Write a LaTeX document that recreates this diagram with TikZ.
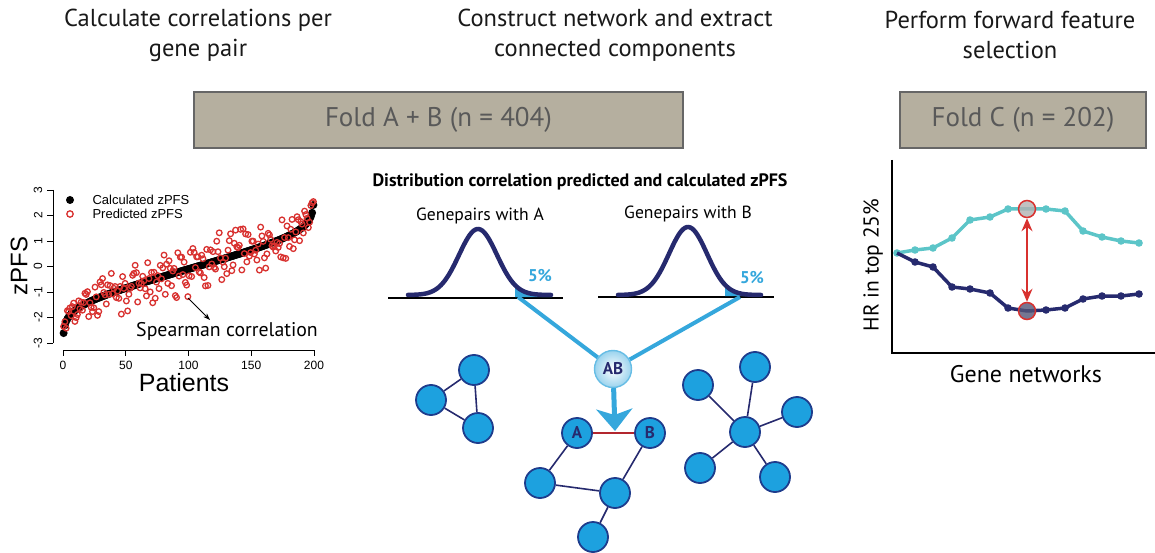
\documentclass[tikz,border=0pt]{standalone}
\usepackage{fontspec}
\setmainfont{PT Sans}
\newfontfamily\plotfont{Liberation Sans}
\usetikzlibrary{arrows.meta}

\definecolor{foldgray}{HTML}{B5AF9F}
\definecolor{navy}{HTML}{262A6E}
\definecolor{skyblue}{HTML}{35A7DC}
\definecolor{nodeblue}{HTML}{1DA1DF}
\definecolor{nodeline}{HTML}{1E3C8C}
\definecolor{edgered}{HTML}{B2262E}
\definecolor{lineteal}{HTML}{5CC5C8}
\definecolor{ptred}{HTML}{D8312F}

\tikzset{
  heading/.style={align=center, font=\fontsize{24.5}{30}\selectfont, text=black!90},
  foldbox/.style={draw=black!60, line width=1.2pt, fill=foldgray,
    font=\fontsize{27}{30}\selectfont, text=black!65},
  ticklab/.style={font=\plotfont\fontsize{12}{12}\selectfont},
  bell/.style={draw=navy, line width=4.5pt, line cap=round},
  feed/.style={draw=skyblue, line width=4pt},
  gene/.style={circle, draw=nodeline, line width=1.8pt, fill=nodeblue,
    minimum size=30pt, inner sep=0pt, font=\fontsize{17}{17}\selectfont\bfseries, text=navy},
  link/.style={draw=navy, line width=1.6pt},
}

\begin{document}
\begin{tikzpicture}[x=1pt,y=-1pt]
\useasboundingbox (0,0) rectangle (1155,553);

  %% headings
  \node[heading] (hcalc) at (198,35) {Calculate correlations per\\gene pair};
  \node[heading] (hnet) at (615,35) {Construct network and extract\\connected components};
  \node[heading] (hsel) at (1010,35) {Perform forward feature\\selection};

  %% folds
  \node[foldbox, minimum width=489pt, minimum height=56pt] (foldab) at (438.5,120) {Fold A + B (n = 404)};
  \node[foldbox, minimum width=246pt, minimum height=56pt] (foldc) at (1023,120) {Fold C (n = 202)};

  %% scatter plot: axes
  \draw[line width=0.8pt] (53,190) -- (53,343);
  \foreach \v in {-3,...,3}
    \draw[line width=0.8pt] (53,{266.5-25.5*\v}) -- (47,{266.5-25.5*\v})
    node[ticklab, rotate=90, anchor=south] (yt\v) at (46,{266.5-25.5*\v}) {\v};
  \draw[line width=0.8pt] (63,350) -- (314,350);
  \foreach \p in {0,50,...,200}
    \draw[line width=0.8pt] ({63+1.255*\p},350) -- ({63+1.255*\p},356)
    node[ticklab, anchor=north] (xt\p) at ({63+1.255*\p},357) {\p};
  \node[font=\plotfont\fontsize{24}{24}\selectfont, rotate=90] (ylab) at (19,266) {zPFS};
  \node[font=\plotfont\fontsize{25}{25}\selectfont] (xlab) at (184,383) {Patients};

  %% scatter plot: points
  \pgfmathsetseed{4242}
  \foreach \i in {1,...,200} {
    \pgfmathsetmacro\t{(\i-100.5)/100}
    \pgfmathsetmacro\zz{-0.1+0.9*\t+0.27*ln((1+\t)/(1-\t))}
    \fill[black] ({63+1.255*(\i-0.5)},{266.5-25.5*\zz}) circle (4pt);
  }
  \foreach \i in {1,...,200} {
    \pgfmathsetmacro\t{(\i-100.5)/100}
    \pgfmathsetmacro\zz{-0.1+0.9*\t+0.27*ln((1+\t)/(1-\t))+(0.75*rand+0.45*rand)*(1-0.5*abs(\t)^3)}
    \draw[ptred, line width=1.3pt] ({63+1.255*(\i-0.5)},{266.5-25.5*\zz}) circle (2.8pt);
  }

  %% legend
  \fill[black] (70,200) circle (4pt);
  \draw[ptred, line width=1.3pt] (70,214) circle (3.2pt);
  \node[font=\plotfont\fontsize{13}{13}\selectfont, anchor=west] (lgcalc) at (89,200) {Calculated zPFS};
  \node[font=\plotfont\fontsize{13}{13}\selectfont, anchor=west] (lgpred) at (89,214) {Predicted zPFS};

  %% spearman
  \node[font=\fontsize{19.8}{20}\selectfont] (spear) at (227,331) {Spearman correlation};
  \coordinate (spfrom) at (188,298);
  \coordinate (spto) at (210,320);
  \draw[line width=1pt, -{Stealth[length=7pt,width=5pt]}] (spfrom) -- (spto);

  %% distributions
  \node[font=\fontsize{18}{18}\selectfont\bfseries] (disttitle) at (580,182)
    {Distribution correlation predicted and calculated zPFS};
  \node[font=\fontsize{17.6}{18}\selectfont] (gpa) at (480,216) {Genepairs with A};
  \node[font=\fontsize{17.6}{18}\selectfont] (gpb) at (688,214) {Genepairs with B};

  \draw[line width=1.2pt] (388,298) -- (563,298);
  \draw[line width=1.2pt] (598,297) -- (774,297);
  \fill[skyblue] (515,297) -- plot[domain=515:552, samples=20] (\x,{295-66*exp(-((\x-478)^2)/722)}) -- (552,297) -- cycle;
  \fill[skyblue] (725,296) -- plot[domain=725:762, samples=20] (\x,{295-68*exp(-((\x-688)^2)/722)}) -- (762,296) -- cycle;
  \draw[bell] plot[domain=408:551, samples=80] (\x,{295-66*exp(-((\x-478)^2)/722)});
  \draw[bell] plot[domain=618:761, samples=80] (\x,{295-68*exp(-((\x-688)^2)/722)});
  \node[font=\fontsize{17}{17}\selectfont\bfseries, text=skyblue] (pcta) at (540,276) {5\%};
  \node[font=\fontsize{17}{17}\selectfont\bfseries, text=skyblue] (pctb) at (752,278) {5\%};

  %% gene pair AB
  \coordinate (taila) at (518,297);
  \coordinate (tailb) at (740,297);
  \node[circle, minimum size=37pt, inner sep=0pt, draw=skyblue!75, line width=1.4pt,
    inner color=white, outer color=skyblue!50, font=\fontsize{17}{17}\selectfont\bfseries,
    text=navy] (ab) at (613,369) {AB};
  \draw[feed] (taila) -- (ab);
  \draw[feed] (tailb) -- (ab);

  %% networks
  \node[gene] (t1) at (474,370) {};
  \node[gene] (t2) at (431,400) {};
  \node[gene] (t3) at (478,428) {};
  \node[gene] (ga) at (577,433) {A};
  \node[gene] (gb) at (650,433) {B};
  \node[gene] (c1) at (540,483) {};
  \node[gene] (c2) at (615,493) {};
  \node[gene] (c3) at (593,537) {};
  \node[gene] (s0) at (745,432) {};
  \node[gene] (s1) at (755,367) {};
  \node[gene] (s2) at (698,385) {};
  \node[gene] (s3) at (797,412) {};
  \node[gene] (s4) at (700,468) {};
  \node[gene] (s5) at (775,477) {};

  \draw[link] (t1) -- (t2) (t2) -- (t3) (t3) -- (t1);
  \draw[link] (ga) -- (c1) (c1) -- (c2) (gb) -- (c2) (c2) -- (c3);
  \foreach \s in {s1,s2,s3,s4,s5} \draw[link] (s0) -- (\s);
  \draw[edgered, line width=2.5pt] (ga) -- (gb);

  \coordinate (abtip) at (615,431);
  \draw[skyblue, line width=5pt, -{Stealth[length=22pt,width=36pt,inset=6pt]}] (ab) -- (abtip);

  %% forward selection plot
  \draw[line width=1.4pt] (892,160) -- (892,353) -- (1155,353);
  \node[font=\fontsize{21.5}{22}\selectfont, rotate=90] (hrlab) at (873,265) {HR in top 25\%};
  \node[font=\fontsize{24}{24}\selectfont] (gnlab) at (1026,374) {Gene networks};

  \draw[lineteal, line width=3.5pt, line join=round] plot coordinates {
    (897,253) (915,250) (933,248) (952,238) (970,220) (990,217) (1008,209)
    (1027,209) (1046,209) (1065,211) (1083,231) (1102,237) (1121,241) (1139,243)};
  \foreach \x/\y in {897/253,915/250,933/248,952/238,970/220,990/217,1008/209,
    1046/209,1065/211,1083/231,1102/237,1121/241,1139/243}
    \fill[lineteal] (\x,\y) circle (3.8pt);
  \draw[navy, line width=3.5pt, line join=round] plot coordinates {
    (897,253) (915,262) (933,267) (952,287) (970,289) (990,293) (1008,308)
    (1027,311) (1046,310) (1065,308) (1083,299) (1102,296) (1121,296) (1139,294)};
  \foreach \x/\y in {915/262,933/267,952/287,970/289,990/293,1008/308,
    1046/310,1065/308,1083/299,1102/296,1121/296,1139/294}
    \fill[navy] (\x,\y) circle (3.8pt);

  \node[circle, minimum size=17pt, inner sep=0pt, draw=ptred, line width=1.5pt,
    fill=gray!60, fill opacity=0.8] (best) at (1027,209) {};
  \node[circle, minimum size=17pt, inner sep=0pt, draw=ptred, line width=1.5pt,
    fill=navy!50!gray, fill opacity=0.8] (worst) at (1027,311) {};
  \draw[ptred, line width=1.6pt, {Stealth[length=13pt,width=11pt]}-{Stealth[length=13pt,width=11pt]}]
    (best) -- (worst);

\end{tikzpicture}
\end{document}
